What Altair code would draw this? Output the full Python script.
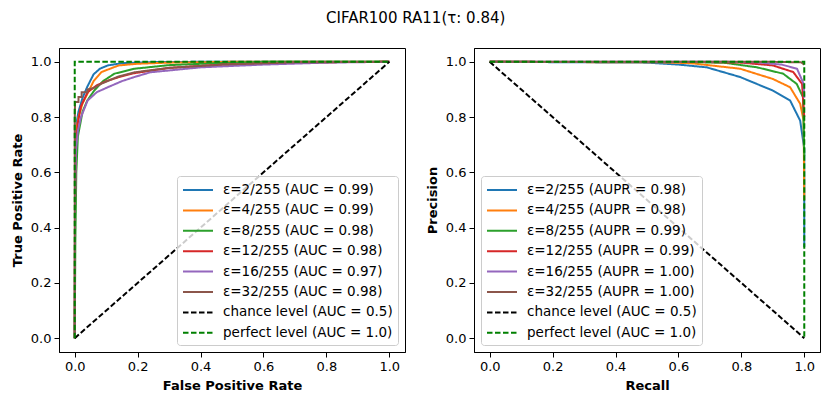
import altair as alt
import pandas as pd

# ---------------- data ----------------
eps_names = ["ε=2/255", "ε=4/255", "ε=8/255", "ε=12/255", "ε=16/255", "ε=32/255"]
roc_auc = ["0.99", "0.99", "0.98", "0.98", "0.97", "0.98"]
pr_aupr = ["0.98", "0.98", "0.99", "0.99", "1.00", "1.00"]

roc_fpr = [
    [0, 0.001, 0.003, 0.006, 0.012, 0.025, 0.04, 0.06, 0.08, 0.105, 0.15, 0.25, 0.4, 1.0],
    [0, 0.001, 0.003, 0.006, 0.012, 0.025, 0.04, 0.06, 0.085, 0.14, 0.2, 0.3, 0.5, 1.0],
    [0, 0.002, 0.005, 0.01, 0.025, 0.04, 0.062, 0.09, 0.126, 0.19, 0.3, 0.45, 0.6, 1.0],
    [0, 0.001, 0.004, 0.01, 0.02, 0.041, 0.07, 0.105, 0.15, 0.19, 0.3, 0.47, 0.7, 1.0],
    [0, 0.001, 0.004, 0.01, 0.02, 0.041, 0.07, 0.105, 0.15, 0.19, 0.24, 0.4, 0.6, 0.8, 1.0],
    [0, 0.0, 0.001, 0.012, 0.012, 0.022, 0.022, 0.04, 0.04, 0.06, 0.083, 0.137, 0.19, 0.3, 0.47, 0.7, 1.0],
]
roc_tpr = [
    [0, 0.45, 0.70, 0.78, 0.82, 0.87, 0.91, 0.955, 0.975, 0.987, 0.995, 0.999, 1.0, 1.0],
    [0, 0.45, 0.68, 0.76, 0.80, 0.85, 0.884, 0.93, 0.963, 0.987, 0.993, 0.997, 1.0, 1.0],
    [0, 0.35, 0.60, 0.73, 0.82, 0.86, 0.896, 0.93, 0.957, 0.975, 0.988, 0.995, 1.0, 1.0],
    [0, 0.50, 0.70, 0.78, 0.84, 0.89, 0.915, 0.932, 0.948, 0.959, 0.978, 0.99, 0.998, 1.0],
    [0, 0.50, 0.68, 0.75, 0.80, 0.86, 0.89, 0.908, 0.93, 0.945, 0.962, 0.98, 0.99, 0.997, 1.0],
    [0, 0.78, 0.855, 0.855, 0.873, 0.873, 0.89, 0.89, 0.90, 0.905, 0.92, 0.946, 0.962, 0.978, 0.99, 0.998, 1.0],
]

pr_recall = [
    [0, 0.5, 0.6, 0.69, 0.796, 0.90, 0.955, 0.987, 1.0, 1.0],
    [0, 0.55, 0.64, 0.796, 0.90, 0.955, 0.987, 0.998, 1.0],
    [0, 0.65, 0.75, 0.85, 0.933, 0.976, 0.996, 1.0],
    [0, 0.7, 0.8, 0.90, 0.965, 0.993, 1.0],
    [0, 0.75, 0.85, 0.928, 0.977, 0.998, 1.0],
    [0, 0.9, 0.99, 1.0, 1.0],
]
pr_precision = [
    [1.0, 0.997, 0.99, 0.98, 0.945, 0.896, 0.86, 0.787, 0.685, 0.33],
    [1.0, 0.998, 0.995, 0.975, 0.938, 0.908, 0.848, 0.787, 0.50],
    [1.0, 0.999, 0.996, 0.98, 0.957, 0.92, 0.872, 0.66],
    [1.0, 0.999, 0.997, 0.987, 0.963, 0.92, 0.80],
    [1.0, 1.0, 0.998, 0.99, 0.975, 0.92, 0.87],
    [1.0, 1.0, 0.998, 0.99, 0.99],
]

chance_roc_x = [0.0, 1.0]
chance_roc_y = [0.0, 1.0]
perfect_roc_x = [0.0, 0.0, 1.0]
perfect_roc_y = [0.0, 1.0, 1.0]
chance_pr_x = [0.0, 1.0]
chance_pr_y = [1.0, 0.0]
perfect_pr_x = [0.0, 1.0, 1.0]
perfect_pr_y = [1.0, 1.0, 0.0]

colors = ["#1f77b4", "#ff7f0e", "#2ca02c", "#d62728", "#9467bd", "#8c564b", "#000000", "#008000"]
dashes = [[1, 0]] * 6 + [[5.5, 2.5], [5.5, 2.5]]

FONT = "DejaVu Sans"
W, H = 346, 304
TICKS = [0, 0.2, 0.4, 0.6, 0.8, 1.0]


def build_panel(xs_list, ys_list, labels, xtitle, ytitle, legend_orient):
    frames = []
    for k, (xs, ys) in enumerate(zip(xs_list, ys_list)):
        frames.append(pd.DataFrame({"x": xs, "y": ys, "series": labels[k], "i": list(range(len(xs)))}))
    xsc = alt.Scale(domain=[-0.05, 1.05], nice=False, zero=False)
    ysc = alt.Scale(domain=[-0.05, 1.05], nice=False, zero=False)
    legend = alt.Legend(
        title=None, orient=legend_orient, offset=7,
        symbolType="M-1.875,0L1.875,0", symbolSize=256, symbolStrokeWidth=2,
        symbolOffset=7,
        labelFont=FONT, labelFontSize=13.5, labelColor="black", labelOffset=16,
        rowPadding=4.4, padding=5, strokeColor="#cccccc", fillColor="rgba(255,255,255,0.8)",
        cornerRadius=3, labelLimit=400,
    )
    layers = []
    for df in frames:
        layers.append(
            alt.Chart(df).mark_line(strokeWidth=2).encode(
                x=alt.X("x:Q", scale=xsc, title=xtitle,
                        axis=alt.Axis(values=TICKS, format=".1f", grid=False)),
                y=alt.Y("y:Q", scale=ysc, title=ytitle,
                        axis=alt.Axis(values=TICKS, format=".1f", grid=False)),
                color=alt.Color("series:N", scale=alt.Scale(domain=labels, range=colors), legend=legend),
                strokeDash=alt.StrokeDash("series:N", scale=alt.Scale(domain=labels, range=dashes), legend=legend),
                order=alt.Order("i:Q"),
            )
        )
    return alt.layer(*layers).properties(width=W, height=H)


roc_labels = [f"{n} (AUC = {a})" for n, a in zip(eps_names, roc_auc)] + [
    "chance level (AUC = 0.5)", "perfect level (AUC = 1.0)"]
pr_labels = [f"{n} (AUPR = {a})" for n, a in zip(eps_names, pr_aupr)] + [
    "chance level (AUC = 0.5)", "perfect level (AUC = 1.0)"]

left = build_panel(roc_fpr + [chance_roc_x, perfect_roc_x], roc_tpr + [chance_roc_y, perfect_roc_y],
                   roc_labels, "False Positive Rate", "True Positive Rate", "bottom-right")
right = build_panel(pr_recall + [chance_pr_x, perfect_pr_x], pr_precision + [chance_pr_y, perfect_pr_y],
                    pr_labels, "Recall", "Precision", "bottom-left")

chart = alt.hconcat(left, right, spacing=19).resolve_scale(
    color="independent", strokeDash="independent"
).resolve_legend(color="independent", strokeDash="independent").properties(
    title=alt.TitleParams("CIFAR100 RA11(τ: 0.84)", font=FONT, fontSize=15, fontWeight="normal",
                          color="black", anchor="middle", offset=22),
    padding={"left": 2, "top": 2, "right": 0, "bottom": 0},
    background="white",
).configure_axis(
    grid=False, domainColor="black", domainWidth=1, tickColor="black", tickSize=5, tickWidth=1,
    labelFont=FONT, labelFontSize=13, labelColor="black", labelPadding=3,
    titleFont=FONT, titleFontSize=13, titleFontWeight="bold", titleColor="black", titlePadding=6,
).configure_view(stroke="black", strokeWidth=1)

chart.save("out.html", embed_options={"renderer": "svg", "actions": False})
